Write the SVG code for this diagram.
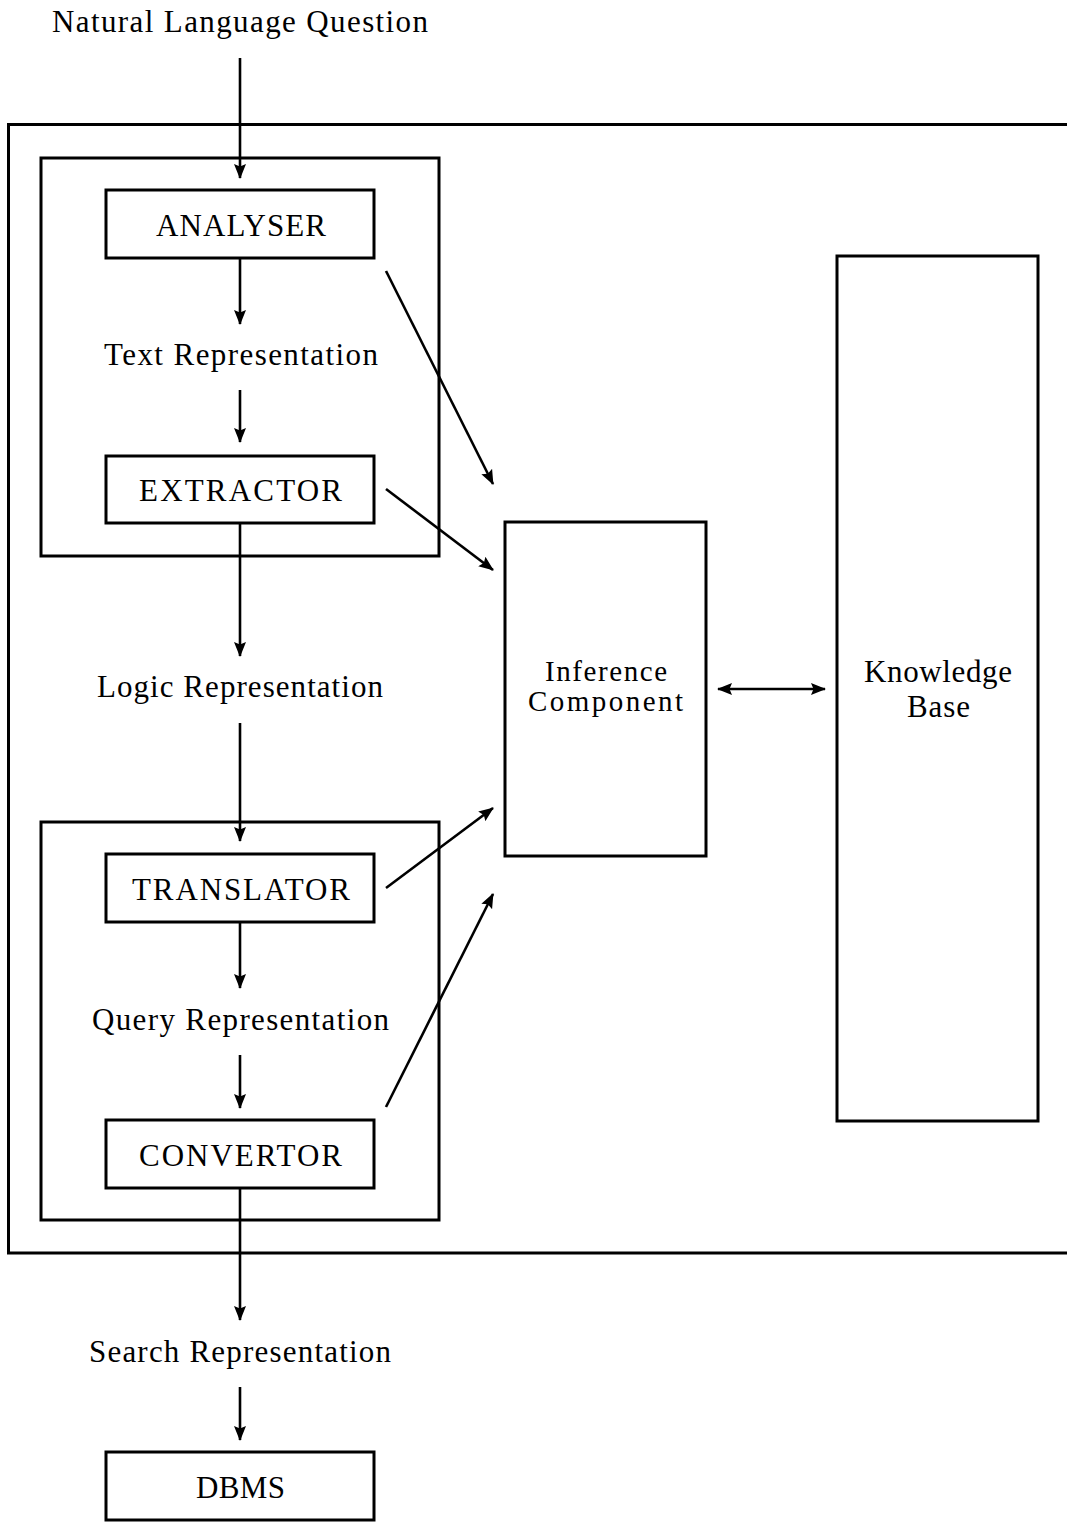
<svg xmlns="http://www.w3.org/2000/svg" width="1067" height="1529" viewBox="0 0 1067 1529">
<defs>
<style>
.box{fill:none;stroke:#000;stroke-width:3}
.ln{fill:none;stroke:#000;stroke-width:2.6}
.t{font-family:"Liberation Serif","DejaVu Serif",serif;font-size:31px;fill:#000;text-anchor:middle}
.t2{font-family:"Liberation Serif","DejaVu Serif",serif;font-size:29px;fill:#000;text-anchor:middle}
</style>
<marker id="ah" viewBox="0 0 15 13" refX="14" refY="6.5" markerWidth="15" markerHeight="13" markerUnits="userSpaceOnUse" orient="auto-start-reverse">
<path d="M0,0.5 L15,6.5 L0,12.5 L2.5,6.5 Z" fill="#000"/>
</marker>
</defs>
<rect width="1067" height="1529" fill="#fff"/>
<g id="frame">
<path class="box" d="M1067,124.5 H8.5 V1253 H1067"/>
</g>
<g id="group-upper"><rect class="box" x="41" y="158" width="398" height="398"/></g>
<g id="group-lower"><rect class="box" x="41" y="822" width="398" height="398"/></g>
<g id="question"><text class="t" x="240" y="32" textLength="376" lengthAdjust="spacing">Natural Language Question</text></g>
<g id="analyser"><rect class="box" x="106" y="190" width="268" height="68"/><text class="t" x="241" y="236" textLength="170" lengthAdjust="spacing">ANALYSER</text></g>
<g id="text-rep"><text class="t" x="241" y="365" textLength="274" lengthAdjust="spacing">Text Representation</text></g>
<g id="extractor"><rect class="box" x="106" y="456" width="268" height="67"/><text class="t" x="240.5" y="501" textLength="203" lengthAdjust="spacing">EXTRACTOR</text></g>
<g id="logic-rep"><text class="t" x="240" y="697" textLength="286" lengthAdjust="spacing">Logic Representation</text></g>
<g id="translator"><rect class="box" x="106" y="854" width="268" height="68"/><text class="t" x="241" y="900" textLength="218" lengthAdjust="spacing">TRANSLATOR</text></g>
<g id="query-rep"><text class="t" x="240.5" y="1030" textLength="297" lengthAdjust="spacing">Query Representation</text></g>
<g id="convertor"><rect class="box" x="106" y="1120" width="268" height="68"/><text class="t" x="240.5" y="1166" textLength="203" lengthAdjust="spacing">CONVERTOR</text></g>
<g id="search-rep"><text class="t" x="240" y="1362" textLength="302" lengthAdjust="spacing">Search Representation</text></g>
<g id="dbms"><rect class="box" x="106" y="1452" width="268" height="68"/><text class="t" x="240.5" y="1498" textLength="89" lengthAdjust="spacing">DBMS</text></g>
<g id="inference"><rect class="box" x="505" y="522" width="201" height="334"/><text class="t2" x="606" y="681" textLength="122" lengthAdjust="spacing">Inference</text><text class="t2" x="605.5" y="711" textLength="155" lengthAdjust="spacing">Component</text></g>
<g id="kb"><rect class="box" x="837" y="256" width="201" height="865"/><text class="t" x="938" y="682" textLength="148" lengthAdjust="spacing">Knowledge</text><text class="t" x="938.5" y="717" textLength="63" lengthAdjust="spacing">Base</text></g>
<g id="connectors">
<line class="ln" x1="240" y1="58" x2="240" y2="178" marker-end="url(#ah)"/>
<line class="ln" x1="240" y1="258" x2="240" y2="324" marker-end="url(#ah)"/>
<line class="ln" x1="240" y1="390" x2="240" y2="442" marker-end="url(#ah)"/>
<line class="ln" x1="240" y1="523" x2="240" y2="656" marker-end="url(#ah)"/>
<line class="ln" x1="240" y1="723" x2="240" y2="841" marker-end="url(#ah)"/>
<line class="ln" x1="240" y1="922" x2="240" y2="988" marker-end="url(#ah)"/>
<line class="ln" x1="240" y1="1055" x2="240" y2="1108" marker-end="url(#ah)"/>
<line class="ln" x1="240" y1="1188" x2="240" y2="1320" marker-end="url(#ah)"/>
<line class="ln" x1="240" y1="1387" x2="240" y2="1440" marker-end="url(#ah)"/>
<line class="ln" x1="386" y1="271" x2="493" y2="484" marker-end="url(#ah)"/>
<line class="ln" x1="386" y1="489" x2="493" y2="570" marker-end="url(#ah)"/>
<line class="ln" x1="386" y1="888" x2="493" y2="808" marker-end="url(#ah)"/>
<line class="ln" x1="386" y1="1107" x2="493" y2="894" marker-end="url(#ah)"/>
<line class="ln" x1="718" y1="689" x2="825" y2="689" marker-start="url(#ah)" marker-end="url(#ah)"/>
</g>
</svg>
